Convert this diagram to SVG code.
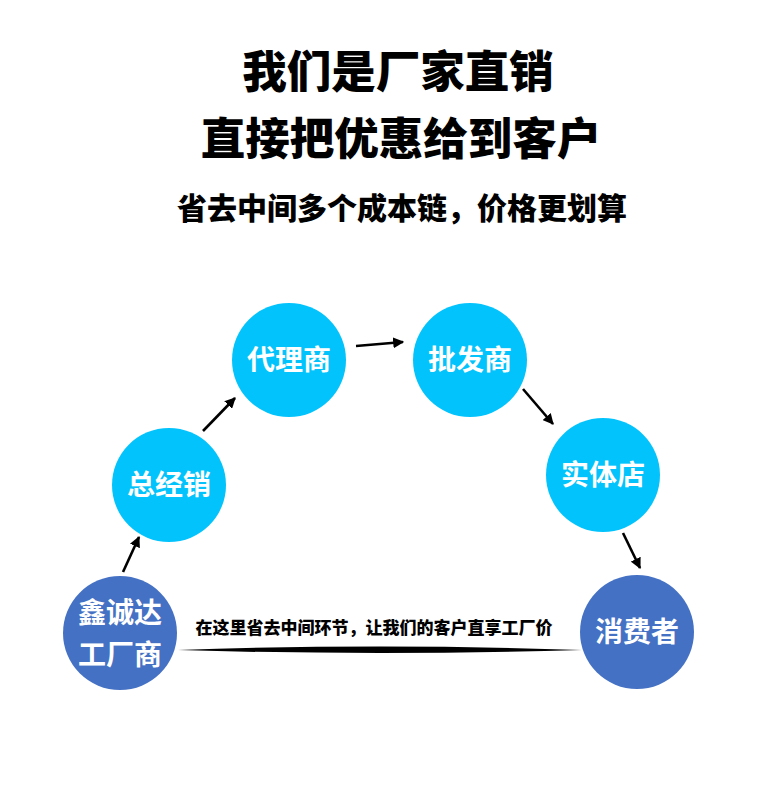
<svg xmlns="http://www.w3.org/2000/svg" width="764" height="800" viewBox="0 0 764 800">
<style>
.t{font-family:"Noto Sans CJK SC","Noto Sans",sans-serif;fill:#000;text-anchor:middle;font-weight:900}
.n{font-family:"Noto Sans CJK SC","Noto Sans",sans-serif;fill:#fff;text-anchor:middle;font-weight:700;font-size:28px}
.cy{fill:#02C3FC}
.bl{fill:#4471C4}
.c line{stroke:#000;stroke-width:2.6}
</style>
<defs>
<marker id="ah" viewBox="0 0 10 10" refX="9" refY="5" markerWidth="4.2" markerHeight="4.2" orient="auto" markerUnits="strokeWidth">
<path d="M0,0 L10,5 L0,10 Z" fill="#000"/>
</marker>
</defs>
<rect width="764" height="800" fill="#fff"/>
<text class="t" x="398" y="88" font-size="44.5">我们是厂家直销</text>
<text class="t" x="401" y="155" font-size="44.5">直接把优惠给到客户</text>
<text class="t" x="402" y="219" font-size="30">省去中间多个成本链，价格更划算</text>

<g class="c">
<line x1="123" y1="572" x2="139" y2="537" marker-end="url(#ah)"/>
<line x1="203" y1="431" x2="235" y2="398" marker-end="url(#ah)"/>
<line x1="356" y1="346" x2="403" y2="342" marker-end="url(#ah)"/>
<line x1="523" y1="389" x2="553" y2="424" marker-end="url(#ah)"/>
<line x1="623" y1="533" x2="640" y2="568" marker-end="url(#ah)"/>
<path d="M178,650 Q379,643 582,650 Q379,656 178,650 Z" fill="#000"/>
</g>

<g id="factory"><circle class="bl" cx="120" cy="633" r="57"/><text class="n" x="120" y="623">鑫诚达</text><text class="n" x="120" y="665">工厂商</text></g>
<g id="general"><circle class="cy" cx="169" cy="485" r="57"/><text class="n" x="169" y="495">总经销</text></g>
<g id="agent"><circle class="cy" cx="289" cy="360" r="57"/><text class="n" x="289" y="370">代理商</text></g>
<g id="wholesale"><circle class="cy" cx="470" cy="360" r="57"/><text class="n" x="470" y="370">批发商</text></g>
<g id="store"><circle class="cy" cx="603" cy="475" r="57"/><text class="n" x="603" y="485">实体店</text></g>
<g id="consumer"><circle class="bl" cx="637" cy="632" r="57"/><text class="n" x="637" y="642">消费者</text></g>
<text class="t" x="374" y="634" font-size="17" font-weight="700">在这里省去中间环节，让我们的客户直享工厂价</text>
</svg>
